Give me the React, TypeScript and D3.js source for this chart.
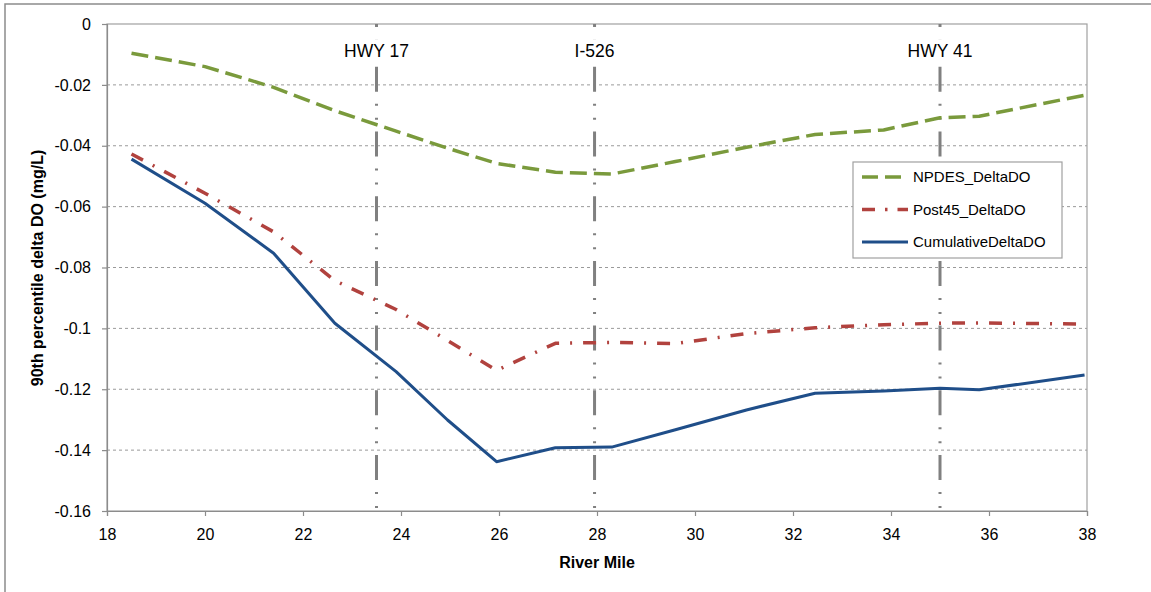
import { useRef, useEffect } from 'react';
import * as d3 from 'd3';

// river mile of each model output point (shared by all three series)
const riverMile = [18.5, 20, 21.4, 22.65, 23.9, 24.95, 25.95, 27.15, 28.3, 29.6, 31.05, 32.45, 33.85, 35.0, 35.8, 37.95];

const npdesDeltaDO = [-0.0096, -0.0140, -0.0208, -0.0285, -0.0352, -0.0408, -0.0458, -0.0487, -0.0493, -0.0452, -0.0405, -0.0363, -0.0348, -0.0308, -0.0303, -0.0234];
const post45DeltaDO = [-0.0427, -0.0556, -0.0683, -0.0843, -0.0938, -0.1040, -0.1138, -0.1049, -0.1046, -0.1050, -0.1017, -0.0998, -0.0988, -0.0983, -0.0982, -0.0986];
const cumulativeDeltaDO = [-0.0444, -0.0589, -0.0753, -0.0983, -0.1142, -0.1301, -0.1438, -0.1392, -0.1390, -0.1333, -0.1268, -0.1213, -0.1206, -0.1197, -0.1202, -0.1153];

const seriesNames = ['NPDES_DeltaDO', 'Post45_DeltaDO', 'CumulativeDeltaDO'];

const landmarkNames = ['HWY 17', 'I-526', 'HWY 41'];
const landmarkMiles = [23.5, 27.95, 35];

const xTicks = [18, 20, 22, 24, 26, 28, 30, 32, 34, 36, 38];
const yTicks = [0, -0.02, -0.04, -0.06, -0.08, -0.1, -0.12, -0.14, -0.16];

const FONT = '"Liberation Sans", Arial, sans-serif';

const App = () => {
    const svgRef = useRef<SVGSVGElement | null>(null);

    const renderChart = () => {
        const svgElement = svgRef.current;
        if (!svgElement) return;

        const width = 1151;
        const height = 592;
        const margin = { top: 24, right: 64, bottom: 81, left: 107 };

        const svg = d3.select(svgElement)
            .attr('width', width)
            .attr('height', height);

        svg.selectAll('*').remove();

        // outer chart frame (runs off the right/bottom of the picture)
        svg.append('rect')
            .attr('x', 5)
            .attr('y', 4)
            .attr('width', 1300)
            .attr('height', 800)
            .attr('fill', 'white')
            .attr('stroke', '#8c8c8c')
            .attr('stroke-width', 1.5);

        const x = d3.scaleLinear()
            .domain([18, 38])
            .range([margin.left, width - margin.right]);

        const y = d3.scaleLinear()
            .domain([-0.16, 0])
            .range([height - margin.bottom, margin.top]);

        // horizontal dashed grid
        svg.append('g')
            .selectAll('line')
            .data(yTicks.filter(d => d !== 0 && d !== -0.16))
            .join('line')
            .attr('x1', x(18))
            .attr('x2', x(38))
            .attr('y1', d => y(d))
            .attr('y2', d => y(d))
            .attr('stroke', '#9a9a9a')
            .attr('stroke-width', 1)
            .attr('stroke-dasharray', '3,3');

        // plot area border
        svg.append('rect')
            .attr('x', x(18))
            .attr('y', y(0))
            .attr('width', x(38) - x(18))
            .attr('height', y(-0.16) - y(0))
            .attr('fill', 'none')
            .attr('stroke', '#a0a0a0')
            .attr('stroke-width', 1.2);

        const xAxis = svg.append('g')
            .attr('transform', `translate(0, ${y(-0.16)})`)
            .call(d3.axisBottom(x)
                .tickValues(xTicks)
                .tickSize(5)
                .tickPadding(13)
                .tickFormat(d => String(d)));

        const yAxis = svg.append('g')
            .attr('transform', `translate(${x(18)}, 0)`)
            .call(d3.axisLeft(y)
                .tickValues(yTicks)
                .tickSize(5)
                .tickPadding(11)
                .tickFormat(d => String(Math.round((d as number) * 100) / 100)));

        [xAxis, yAxis].forEach(axis => {
            axis.selectAll('path, line')
                .attr('stroke', '#8c8c8c')
                .attr('stroke-width', 1.2);
            axis.selectAll('text')
                .attr('fill', '#000')
                .style('font-family', FONT)
                .style('font-size', '16px');
        });

        // landmark lines (long dash, dot, dot)
        landmarkMiles.forEach((mile, i) => {
            svg.append('line')
                .attr('x1', x(mile))
                .attr('x2', x(mile))
                .attr('y1', y(-0.16))
                .attr('y2', y(0))
                .attr('stroke', '#808080')
                .attr('stroke-width', 3)
                .attr('stroke-dasharray', '2,12,2,12,25,11.7')
                .attr('stroke-dashoffset', 61.7);

            const label = svg.append('text')
                .attr('x', x(mile))
                .attr('y', 51)
                .attr('dy', '0.35em')
                .attr('text-anchor', 'middle')
                .style('font-family', FONT)
                .style('font-size', '17.5px')
                .attr('fill', '#000')
                .text(landmarkNames[i]);

            const box = (label.node() as SVGTextElement).getBBox();
            svg.insert('rect', () => label.node() as Element)
                .attr('x', box.x - 3)
                .attr('y', box.y - 2)
                .attr('width', box.width + 6)
                .attr('height', box.height + 4)
                .attr('fill', 'white');
        });

        const seriesData = [npdesDeltaDO, post45DeltaDO, cumulativeDeltaDO];
        const seriesColors = ['#7a9a3c', '#b1423e', '#1f4e89'];
        const seriesDash = ['17,7', '13,11,2,11', null];

        const line = d3.line<number>()
            .x((_, i) => x(riverMile[i]))
            .y(d => y(d));

        seriesData.forEach((values, i) => {
            svg.append('path')
                .datum(values)
                .attr('fill', 'none')
                .attr('stroke', seriesColors[i])
                .attr('stroke-width', i === 2 ? 3 : 3.5)
                .attr('stroke-linejoin', 'round')
                .attr('stroke-dasharray', seriesDash[i])
                .attr('d', line);
        });

        // legend
        const legend = svg.append('g');
        legend.append('rect')
            .attr('x', 853)
            .attr('y', 162)
            .attr('width', 209)
            .attr('height', 96)
            .attr('fill', 'white')
            .attr('stroke', '#a0a0a0')
            .attr('stroke-width', 1.2);

        const legendDash = ['16,7', '13,10,2.5,10', null];
        seriesNames.forEach((name, i) => {
            const rowY = 177 + i * 32.5;
            legend.append('line')
                .attr('x1', 862)
                .attr('x2', 908)
                .attr('y1', rowY)
                .attr('y2', rowY)
                .attr('stroke', seriesColors[i])
                .attr('stroke-width', i === 2 ? 3 : 3.5)
                .attr('stroke-dasharray', legendDash[i]);
            legend.append('text')
                .attr('x', 913)
                .attr('y', rowY)
                .attr('dy', '0.35em')
                .style('font-family', FONT)
                .style('font-size', '15px')
                .attr('fill', '#000')
                .text(name);
        });

        // axis titles
        svg.append('text')
            .attr('x', x(28))
            .attr('y', 562)
            .attr('dy', '0.35em')
            .attr('text-anchor', 'middle')
            .style('font-family', FONT)
            .style('font-size', '16px')
            .style('font-weight', 'bold')
            .text('River Mile');

        svg.append('text')
            .attr('transform', 'translate(37, 268) rotate(-90)')
            .attr('dy', '0.35em')
            .attr('text-anchor', 'middle')
            .style('font-family', FONT)
            .style('font-size', '16px')
            .style('font-weight', 'bold')
            .text('90th percentile delta DO (mg/L)');
    };

    useEffect(() => {
        document.body.style.margin = '0';
        renderChart();
    }, []);

    return (
        <div style={{ position: 'relative', width: 1151, height: 592, overflow: 'hidden' }}>
            <svg ref={svgRef} style={{ display: 'block' }}></svg>
        </div>
    );
};

export default App;
